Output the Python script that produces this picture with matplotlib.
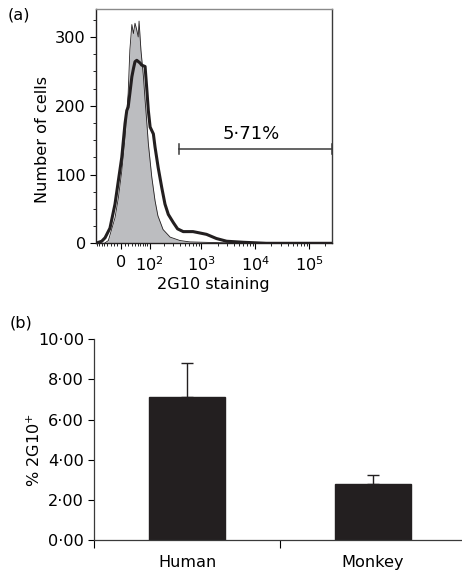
import numpy as np
import matplotlib
matplotlib.use("Agg")
import matplotlib.pyplot as plt
from matplotlib.ticker import FixedLocator, FuncFormatter

plt.rcParams["font.family"] = ["DejaVu Sans"]
plt.rcParams["mathtext.default"] = "regular"

# ---------------------------------------------------------------------------
# Data
# ---------------------------------------------------------------------------
# (a) isotype control histogram (grey fill)
ctrl_x = [-85, -50, -37, -17, -7.5, 2, 11, 20, 25, 31, 36, 41, 47, 52, 55, 62,
          72, 79, 86, 94, 112, 131, 150, 190, 260, 400, 613, 1900, 10000, 262144]
ctrl_n = [0, 0, 4, 37, 66, 105, 154, 218, 281, 318, 305, 320, 310, 300, 323,
          281, 242, 208, 179, 145, 96, 62, 40, 20, 9, 4, 2, 1, 0, 0]

# (a) 2G10 stained histogram (thick black line)
stain_x = [-85, -60, -48, -32, -17, -7.5, 2, 11, 16, 20, 25, 31, 36, 41, 47, 59,
           65, 79, 86, 94, 103, 121, 131, 152, 179, 207, 240, 300, 360, 460, 700,
           940, 1250, 1900, 2950, 6000, 16000, 262144]
stain_n = [0, 3, 8, 22, 57, 91, 125, 174, 193, 198, 218, 242, 254, 264, 266, 262,
           259, 257, 227, 193, 169, 159, 140, 110, 81, 57, 42, 30, 21, 17, 17,
           15, 13, 7, 3, 1.5, 0, 0]

gate_lo, gate_hi, gate_y = 383, 262144, 137
gate_label = "5\u00b771%"

# (b) bar chart
species = ["Human", "Monkey"]
pct_pos = [7.14, 2.79]
pct_err = [1.69, 0.45]

W = 65.0  # arcsinh width of the cytometry display scale
FS = 11.6


def fwd(x):
    return np.arcsinh(np.asarray(x, dtype=float) / W)


def inv(y):
    return W * np.sinh(np.asarray(y, dtype=float))


fig = plt.figure(figsize=(4.62, 5.71), dpi=100)

# ---- (a) histogram ---------------------------------------------------------
ax_a = fig.add_axes([95.7 / 462, 1 - 243.3 / 571, 236 / 462, 234.3 / 571])
ax_a.set_xscale("function", functions=(fwd, inv))
ax_a.fill_between(ctrl_x, ctrl_n, color="#bcbdc0", lw=0, zorder=1)
ax_a.plot(ctrl_x, ctrl_n, color="#231f20", lw=0.6, zorder=2)
ax_a.plot(stain_x, stain_n, color="#231f20", lw=2.2, zorder=3)

ax_a.plot([gate_lo, gate_hi], [gate_y, gate_y], color="#3a3a3a", lw=1.1)
for gx in (gate_lo, gate_hi):
    ax_a.plot([gx, gx], [gate_y - 7, gate_y + 7], color="#3a3a3a", lw=1.1)
ax_a.text(8600, gate_y + 9, gate_label, ha="center", va="bottom", fontsize=13)

ax_a.set_xlim(-85, 262144)
ax_a.set_ylim(0, 340.6)

ax_a.xaxis.set_major_locator(FixedLocator([0, 1e2, 1e3, 1e4, 1e5]))
ax_a.set_xticklabels(["0", "$10^{2}$", "$10^{3}$", "$10^{4}$", "$10^{5}$"])
minor_x = ([-80, -70, -60, -50, -40, -30, -20, -10]
           + list(range(10, 100, 10))
           + [k * 10 ** e for e in (2, 3, 4) for k in range(2, 10)]
           + [2e5])
ax_a.xaxis.set_minor_locator(FixedLocator(minor_x))
ax_a.yaxis.set_major_locator(FixedLocator([0, 100, 200, 300]))
ax_a.yaxis.set_minor_locator(FixedLocator([25, 50, 75, 125, 150, 175, 225, 250,
                                           275, 325]))
ax_a.tick_params(axis="both", which="major", length=4, width=0.8,
                 labelsize=FS, pad=3)
ax_a.tick_params(axis="x", which="major", pad=4.5)
ax_a.tick_params(axis="both", which="minor", length=2.2, width=0.6)

ax_a.spines["left"].set_color("#231f20")
ax_a.spines["bottom"].set_color("#231f20")
ax_a.spines["top"].set_color("#8a8a8a")
ax_a.spines["right"].set_color("#3a3a3a")
for sp in ax_a.spines.values():
    sp.set_linewidth(1.0)

ax_a.set_xlabel("2G10 staining", fontsize=FS, labelpad=2)
ax_a.set_ylabel("Number of cells", fontsize=FS)
ax_a.yaxis.set_label_coords(-0.195, 0.445)
fig.text(8 / 462, 1 - 7 / 571, "(a)", ha="left", va="top", fontsize=FS)

# ---- (b) bar chart ---------------------------------------------------------
ax_b = fig.add_axes([94.3 / 462, 1 - 540 / 571, 367.4 / 462, 200.7 / 571])
xpos = np.arange(len(species))
ax_b.bar(xpos, pct_pos, width=0.41, color="#231f20", edgecolor="#231f20",
         zorder=2)
ax_b.errorbar(xpos, pct_pos, yerr=[[0, 0], pct_err], fmt="none",
              ecolor="#231f20", elinewidth=1.0, capsize=4.5, capthick=1.0,
              zorder=1)
ax_b.set_xlim(-0.5, 1.48)
ax_b.set_ylim(0, 10)
ax_b.yaxis.set_major_locator(FixedLocator([0, 2, 4, 6, 8, 10]))
ax_b.yaxis.set_major_formatter(FuncFormatter(
    lambda v, _: f"{v:.2f}".replace(".", "\u00b7")))
ax_b.xaxis.set_major_locator(FixedLocator([-0.5, 0.5, 1.5]))
ax_b.xaxis.set_major_formatter(FuncFormatter(lambda v, _: ""))
ax_b.xaxis.set_minor_locator(FixedLocator(xpos))
ax_b.set_xticklabels(species, minor=True)
ax_b.tick_params(axis="x", which="major", length=6, width=0.8)
ax_b.tick_params(axis="x", which="minor", length=0, labelsize=FS, pad=11)
ax_b.tick_params(axis="y", which="major", length=4.3, width=0.8,
                 labelsize=FS, pad=3)
ax_b.spines[["top", "right"]].set_visible(False)
for side in ("left", "bottom"):
    ax_b.spines[side].set_color("#3a3a3a")
    ax_b.spines[side].set_linewidth(0.9)
ax_b.set_ylabel("% 2G10$^{+}$", fontsize=FS)
ax_b.yaxis.set_label_coords(-0.14, 0.45)
fig.text(10 / 462, 1 - 315 / 571, "(b)", ha="left", va="top", fontsize=FS)

fig.savefig("out.png", dpi=100)
